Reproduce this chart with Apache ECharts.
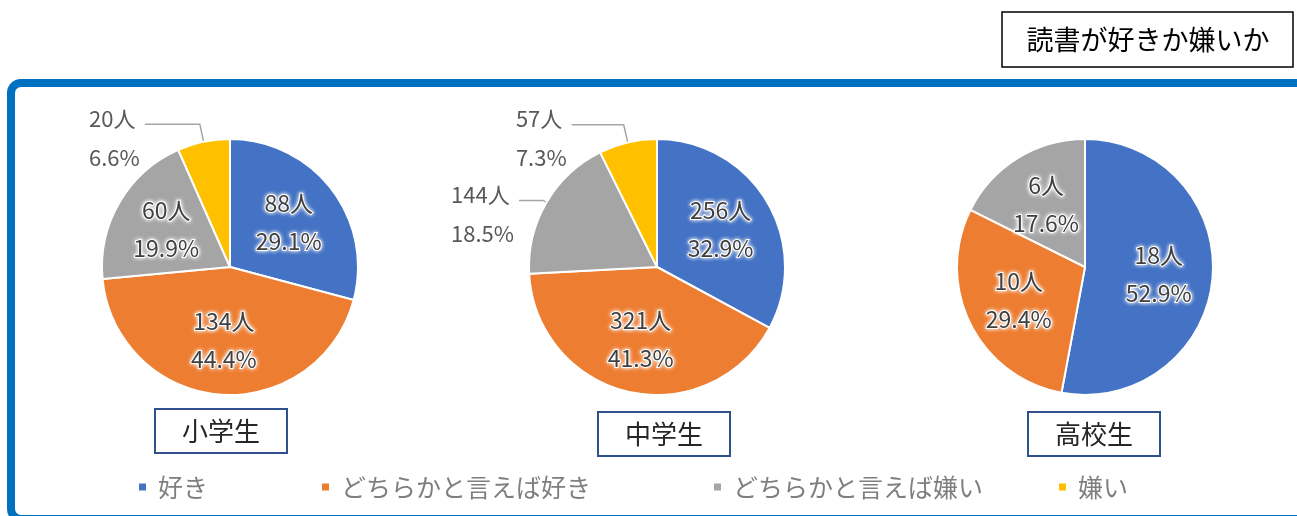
<!DOCTYPE html>
<html>
<head>
<meta charset="UTF-8">
<title>読書が好きか嫌いか</title>
<script src="https://cdn.jsdelivr.net/npm/echarts@6/dist/echarts.min.js"></script>
<style>html,body{margin:0;padding:0;background:#fff;}</style>
</head>
<body>
<div id="main" style="width:1297px;height:516px;"></div>
<script type="text/javascript">
var categories = ['好き', 'どちらかと言えば好き', 'どちらかと言えば嫌い', '嫌い'];
var groups = ['小学生', '中学生', '高校生'];
var elementary = [88, 134, 60, 20];
var juniorHigh = [256, 321, 144, 57];
var highSchool = [18, 10, 6, 0];
var colors = ['#4472c4', '#ed7d31', '#a5a5a5', '#ffc000'];

var font = "'Noto Sans CJK JP', 'Noto Sans', sans-serif";
var values = [elementary, juniorHigh, highSchool];
var centersX = [230, 657, 1085];
var R = 128, CY = 267;

// which slices get an outside label with a leader line (and its line lengths)
var outside = [
	{ 3: [18, 55] },
	{ 2: [4, 24], 3: [18, 52] },
	{}
];

function sum(arr) {
	var s = 0;
	arr.forEach(function(v) { s += v; });
	return s;
}

var series = [];
// visible pies
values.forEach(function(vals, g) {
	series.push({
		type: 'pie',
		center: [centersX[g], CY],
		radius: R,
		startAngle: 90,
		silent: true,
		label: { show: false },
		labelLine: { show: false },
		itemStyle: { borderColor: '#fff', borderWidth: 2 },
		data: vals.map(function(v, i) {
			return { name: categories[i], value: v, itemStyle: { color: colors[i] } };
		})
	});
});
// label-only pies (ring so the inside labels sit a bit further out)
values.forEach(function(vals, g) {
	var total = sum(vals);
	series.push({
		type: 'pie',
		center: [centersX[g], CY],
		radius: [14, R],
		startAngle: 90,
		silent: true,
		avoidLabelOverlap: false,
		itemStyle: { color: 'rgba(0,0,0,0)', borderWidth: 0 },
		label: {
			show: true,
			position: 'inside',
			fontFamily: font,
			fontSize: 23,
			lineHeight: 38,
			color: '#404040',
			textBorderColor: '#fff',
			textBorderWidth: 2,
			textShadowColor: '#fff',
			textShadowBlur: 4,
			formatter: function(p) {
				var pct = (p.value / total * 100).toFixed(1) + '%';
				if (outside[g][p.dataIndex]) {
					return '{a|' + p.value + '人}\n{b|' + pct + '}';
				}
				return p.value + '人\n' + pct;
			},
			rich: {
				a: { fontFamily: font, fontSize: 22, color: '#595959', lineHeight: 66, align: 'left' },
				b: { fontFamily: font, fontSize: 22, color: '#595959', lineHeight: 12, align: 'left' }
			}
		},
		labelLine: { show: false },
		data: vals.map(function(v, i) {
			var item = { name: categories[i], value: v };
			if (v === 0) {
				item.label = { show: false };
			} else if (outside[g][i]) {
				item.label = {
					position: 'outside',
					color: '#595959',
					textBorderWidth: 0,
					textShadowBlur: 0
				};
				item.labelLine = {
					show: true,
					length: outside[g][i][0],
					length2: outside[g][i][1],
					lineStyle: { color: '#a6a6a6', width: 1.5 }
				};
			}
			return item;
		})
	});
});

var legendLeft = [137, 320, 712, 1057];
var legends = categories.map(function(c, i) {
	return {
		data: [c],
		left: legendLeft[i],
		top: 472,
		padding: 0,
		icon: 'rect',
		itemWidth: 9,
		itemHeight: 9,
		selectedMode: false,
		textStyle: { fontFamily: font, fontSize: 25, color: '#7f7f7f', lineHeight: 30, padding: [0, 0, 0, 6] }
	};
});

var boxes = [
	{ x: 155, y: 409 },
	{ x: 598, y: 412 },
	{ x: 1028, y: 412 }
];
var graphics = [
	{
		type: 'rect',
		shape: { x: 11, y: 83, width: 1300, height: 436, r: 10 },
		style: { fill: 'none', stroke: '#0070c0', lineWidth: 8 }
	},
	{
		type: 'rect',
		shape: { x: 1002, y: 12, width: 291, height: 55 },
		style: { fill: '#fff', stroke: '#000', lineWidth: 1.5 }
	},
	{
		type: 'text',
		x: 1148, y: 40,
		style: { text: '読書が好きか嫌いか', fontFamily: font, fontSize: 27, fill: '#000', align: 'center', verticalAlign: 'middle' }
	}
];
groups.forEach(function(name, g) {
	graphics.push({
		type: 'rect',
		shape: { x: boxes[g].x, y: boxes[g].y, width: 132, height: 44 },
		style: { fill: '#fff', stroke: '#2f528f', lineWidth: 2 }
	});
	graphics.push({
		type: 'text',
		x: boxes[g].x + 66, y: boxes[g].y + 22,
		style: { text: name, fontFamily: font, fontSize: 26, fill: '#262626', align: 'center', verticalAlign: 'middle' }
	});
});

var myChart = echarts.init(document.getElementById('main'));
myChart.setOption({
	animation: false,
	backgroundColor: '#fff',
	legend: legends,
	graphic: graphics,
	series: series
});
</script>
</body>
</html>
